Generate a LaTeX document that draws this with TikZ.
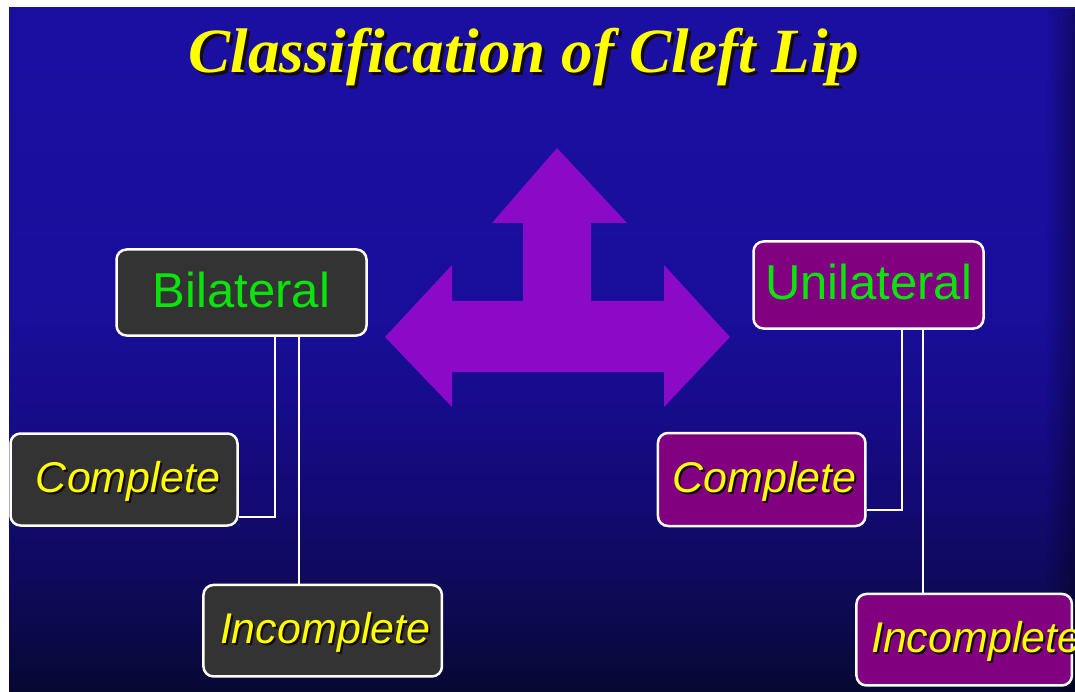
\documentclass[tikz,border=0pt]{standalone}
\usepackage{fontspec}
\setmainfont{Liberation Serif}
\newfontfamily\lsans{Liberation Sans}
\newfontfamily\lserif{Liberation Serif}
\usetikzlibrary{fadings}
\definecolor{bgtop}{RGB}{27,15,162}
\definecolor{bgA}{RGB}{25,14,155}
\definecolor{bgB}{RGB}{22,12,140}
\definecolor{bgC}{RGB}{18,10,115}
\definecolor{bgD}{RGB}{13,10,85}
\definecolor{bgbot}{RGB}{6,8,50}
\definecolor{arrowc}{RGB}{138,10,200}
\definecolor{boxgray}{RGB}{51,51,51}
\definecolor{boxpurple}{RGB}{128,0,128}
\definecolor{lblgreen}{RGB}{10,228,10}
\definecolor{lblyellow}{RGB}{255,255,0}
\definecolor{shadowc}{RGB}{20,10,10}
\pgfdeclareverticalshading{bgshade}{100bp}{color(0bp)=(bgbot); color(25bp)=(bgbot); color(31.7bp)=(bgD); color(39bp)=(bgC); color(46.3bp)=(bgB); color(53.7bp)=(bgA); color(75bp)=(bgtop); color(100bp)=(bgtop)}
\newcommand\shtext[2]{\makebox[0pt][l]{\kern#1\raisebox{-#1}{\textcolor{shadowc}{#2}}}#2}
\tikzset{
  box/.style={draw=white, line width=2.5pt, rounded corners=10pt, inner sep=0pt},
  headlbl/.style={box, text=lblgreen, font=\lsans\fontsize{49}{52}\selectfont, text height=30pt, text depth=0pt},
  sublbl/.style={box, text=lblyellow, font=\lsans\itshape\fontsize{43}{46}\selectfont, text height=25.5pt, text depth=0pt},
  conn/.style={draw=white, line width=2.5pt},
}
\begin{document}
\begin{tikzpicture}[x=1pt,y=-1pt]
\useasboundingbox (0,0) rectangle (1075,692);
\fill[white] (0,0) rectangle (1075,692);
\shade[shading=bgshade] (9,8) rectangle (1075,692);
\fill[black, opacity=0.35, path fading=west] (1045,8) rectangle (1075,692);
% title
\node[anchor=base, text=lblyellow, font=\lserif\bfseries\itshape\fontsize{63}{70}\selectfont] (title) at (524,73) {\shtext{3pt}{Classification of Cleft Lip}};
% central arrow
\fill[arrowc] (557,148) -- (627,223) -- (591,223) -- (591,301) -- (664,301) -- (664,265)
  -- (730,337) -- (664,407) -- (664,372) -- (452,372) -- (452,407) -- (385,337)
  -- (452,265) -- (452,301) -- (523,301) -- (523,223) -- (492,223) -- cycle;
% boxes
\node[headlbl, fill=boxgray, minimum width=250pt, minimum height=86pt] (bil) at (241.5,292.5) {Bilateral};
\node[headlbl, fill=boxpurple, minimum width=230pt, minimum height=87pt] (uni) at (868.5,285) {Unilateral};
\node[sublbl, fill=boxgray, minimum width=227pt, minimum height=92pt] (comL) at (124,479.5) {\makebox[0pt]{\hspace*{8pt}\shtext{2pt}{Complete}}};
\node[sublbl, fill=boxgray, minimum width=238.5pt, minimum height=91.5pt] (incL) at (322.7,630.7) {\makebox[0pt]{\hspace*{5pt}\shtext{2pt}{Incomplete}}};
\node[sublbl, fill=boxpurple, minimum width=207.5pt, minimum height=93pt] (comR) at (761.7,479.5) {\makebox[0pt]{\hspace*{6pt}\shtext{2pt}{Complete}}};
\node[sublbl, fill=boxpurple, minimum width=215.5pt, minimum height=91.5pt] (incR) at (964.2,639.7) {\makebox[0pt]{\hspace*{24pt}\shtext{2pt}{Incomplete}}};
% connectors
\draw[conn] ([xshift=33.5pt]bil.south) |- ([yshift=10pt]comL.south east);
\draw[conn] ([xshift=57.5pt]bil.south) -- ([xshift=57.5pt]bil.south |- incL.north);
\draw[conn] ([xshift=33.5pt]uni.south) |- ([yshift=17.5pt]comR.south east);
\draw[conn] ([xshift=54.5pt]uni.south) -- ([xshift=54.5pt]uni.south |- incR.north);
\end{tikzpicture}
\end{document}
